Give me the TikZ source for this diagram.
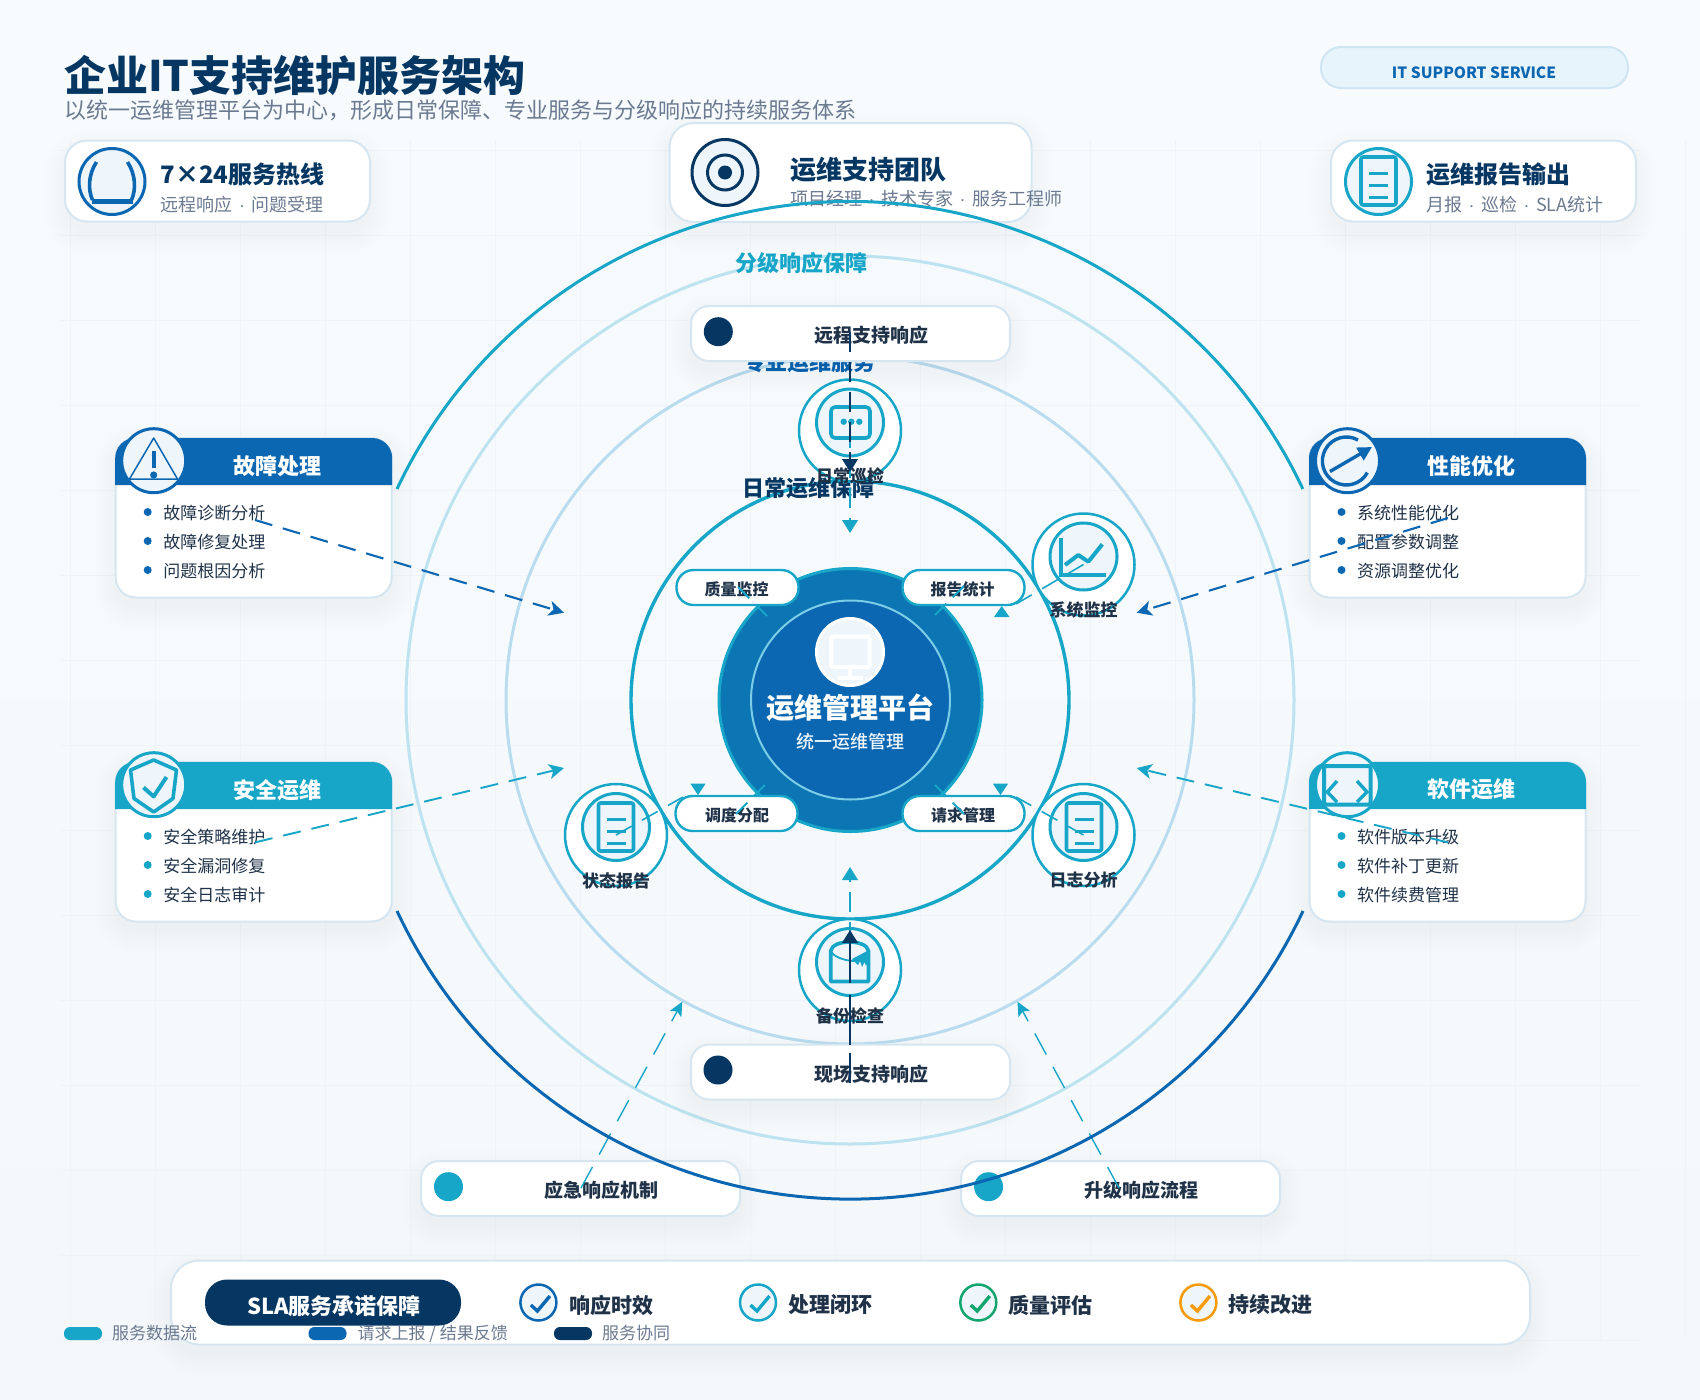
\documentclass[tikz,border=0pt]{standalone}
\usepackage{fontspec}
\setmainfont{Noto Sans CJK SC}
\newfontfamily\medf{Noto Sans CJK SC Medium}
\newfontfamily\dotf{Liberation Sans}
\usetikzlibrary{arrows.meta}
\definecolor{navy}{HTML}{063763}
\definecolor{cblue}{HTML}{0B67B2}
\definecolor{cteal}{HTML}{17A6C8}
\definecolor{ringa}{HTML}{BDE3F0}
\definecolor{ringb}{HTML}{B9DCEF}
\definecolor{edgec}{HTML}{D6E6F1}
\definecolor{subc}{HTML}{6B7A90}
\definecolor{ink}{HTML}{1F3248}
\definecolor{iconf}{HTML}{EEF6FB}
\definecolor{gridc}{HTML}{EEF4F9}
\definecolor{cgreen}{HTML}{12A56E}
\definecolor{corange}{HTML}{F59A0B}
\definecolor{bgtop}{HTML}{F7FBFE}
\definecolor{bgbot}{HTML}{F4F8FB}
\definecolor{platf}{HTML}{0C76B5}
\definecolor{platr}{HTML}{7CCDE6}
\definecolor{badgef}{HTML}{E8F4FB}
\definecolor{badged}{HTML}{CFE5F3}
\newcommand{\szf}[1]{\fontsize{#1}{#1}\selectfont}
\newcommand{\sepdot}{\hspace{6.5pt}{\dotf ·}\hspace{6.5pt}}
\newcommand{\softshadow}[5]{%
  \foreach \i in {0,...,7}{%
    \fill[navy,opacity=.004,rounded corners={#5+\i*3}]
      ({#1-\i*3},{#2+10-\i*3}) rectangle ({#3+\i*3},{#4+10+\i*3});
  }}
\tikzset{
  cardbox/.style={draw=edgec,line width=2pt,fill=white,rounded corners=22pt,inner sep=0pt,outer sep=0pt},
  smallcard/.style={cardbox,rounded corners=18pt,minimum width=319pt,minimum height=55pt},
  pillbox/.style={draw=cteal,line width=2.4pt,fill=white,rounded corners=17pt,minimum width=122pt,minimum height=35pt,inner sep=0pt,outer sep=0pt},
  ink17/.style={inner sep=0pt,text=ink,font=\szf{17}\bfseries},
  pilltext/.style={inner sep=0pt,text=ink,font=\szf{16}\bfseries},
  cardtitle/.style={inner sep=0pt,text=white,font=\szf{22}\bfseries},
  itemtext/.style={inner sep=0pt,anchor=west,text=ink,font=\szf{17},text height=14.5pt,text depth=2.5pt},
  toptitle/.style={inner sep=0pt,anchor=west,text=navy,font=\szf{24}\bfseries},
  topsub/.style={inner sep=0pt,anchor=west,text=subc,font=\szf{18}},
  legendtext/.style={inner sep=0pt,anchor=west,text=subc,font=\szf{17}},
  ringlabel/.style={inner sep=0pt,font=\szf{22}\bfseries},
  cardlabel/.style={inner sep=0pt,text=ink,font=\szf{19}\bfseries},
  slatext/.style={inner sep=0pt,anchor=west,text=ink,font=\szf{21}\bfseries},
  bullet/.style={circle,minimum size=8pt,inner sep=0pt},
  icondisc/.style={circle,fill=iconf,line width=3pt,minimum size=66pt,inner sep=0pt},
  nodeouter/.style={circle,draw=cteal,fill=white,line width=2.5pt,minimum size=102pt,inner sep=0pt},
  nodeinner/.style={circle,draw=cteal,fill=iconf,line width=3pt,minimum size=67pt,inner sep=0pt},
  respdot/.style={circle,minimum size=29pt,inner sep=0pt},
  checkdisc/.style={circle,fill=iconf,line width=2.5pt,minimum size=36pt,inner sep=0pt},
  glyph/.style={line width=3.6pt,line join=round},
  flowlong/.style={line width=2.1pt,dash pattern=on 18pt off 11pt,-{Stealth[length=15pt,width=15pt,inset=4pt]}},
  flowthin/.style={cteal,line width=1.4pt,dash pattern=on 24pt off 14pt,-{Stealth[length=14pt,width=13pt,inset=3pt]}},
  spokeline/.style={cteal,line width=1.6pt,dash pattern=on 18pt off 12pt},
  trihead/.style={fill=cteal,draw=none},
  legendpill/.style={rounded corners=6pt,minimum width=38pt,minimum height=13pt,inner sep=0pt},
}
\newcommand{\sidecard}[8]{%
  \softshadow{#2}{#3}{#2+276}{#3+159.5}{20}
  \node[cardbox,rounded corners=20pt,minimum width=276pt,minimum height=159.5pt] (#1) at ({#2+138},{#3+79.75}) {};
  \fill[#4] ({#2-.5},{#3+47}) -- ({#2-.5},{#3+20}) arc[start angle=180,end angle=270,radius=20] -- ({#2+256.5},{#3}) arc[start angle=270,end angle=360,radius=20] -- ({#2+276.5},{#3+47}) -- cycle;
  \node[cardtitle] (#1title) at ({#2+161.8},{#3+27.7}) {#5};
  \node[bullet,fill=#4] (#1bi) at ({#2+32},{#3+74}) {};
  \node[bullet,fill=#4] (#1bj) at ({#2+32},{#3+103}) {};
  \node[bullet,fill=#4] (#1bk) at ({#2+32},{#3+132}) {};
  \node[itemtext] (#1ti) at ({#2+47.5},{#3+75}) {#6};
  \node[itemtext] (#1tj) at ({#2+47.5},{#3+104}) {#7};
  \node[itemtext] (#1tk) at ({#2+47.5},{#3+133}) {#8};
  \node[circle,draw=#4,fill=iconf,line width=3pt,minimum size=64pt,inner sep=0pt] (#1icon) at ({#2+38},{#3+22.7}) {};
}
% name, x, y of outer centre, label
\newcommand{\ringnode}[4]{%
  \node[nodeouter] (#1) at (#2,#3) {};
  \node[nodeinner] (#1in) at (#2,{#3-8}) {};
  \node[ink17] (#1lab) at (#2,{#3+45.5}) {#4};
}
\newcommand{\docglyph}[3]{% x centre, y centre, colour
  \draw[#3,glyph,rounded corners=2pt] ({#1-17.5},{#2-24}) rectangle ({#1+17.5},{#2+24});
  \draw[#3,line width=3pt] ({#1-9.5},{#2-8}) -- ({#1+9.5},{#2-8}) ({#1-9.5},{#2+4}) -- ({#1+9.5},{#2+4}) ({#1-9.5},{#2+16}) -- ({#1+9.5},{#2+16});
}
\newcommand{\checkitem}[5]{% name,x,colour,text,textx
  \node[checkdisc,draw=#3] (#1) at (#2,1302.5) {};
  \draw[#3,line width=3.4pt] ({#2-7.5},1305) -- ({#2-1},1311) -- ({#2+11.5},1296);
  \node[slatext] (#1t) at (#5,1305) {#4};
}
\begin{document}
\begin{tikzpicture}[x=1pt,y=1pt,yscale=-1]
\useasboundingbox (0,0) rectangle (1700,1400);
\fill[top color=bgtop,bottom color=bgbot] (0,0) rectangle (1700,1400);
% grid
\foreach \gx in {70,155,...,1690}{\draw[gridc,line width=1pt] (\gx,140) -- (\gx,1340);}
\foreach \gy in {150,235,...,1345}{\draw[gridc,line width=1pt] (60,\gy) -- (1640,\gy);}
% heading
\node[inner sep=0pt,anchor=west,text=navy,font=\szf{42}\bfseries] (heading) at (64,75) {企业IT支持维护服务架构};
\node[inner sep=0pt,anchor=west,text=subc,font=\szf{22}] (subheading) at (64,110.5) {以统一运维管理平台为中心，形成日常保障、专业服务与分级响应的持续服务体系};
\node[draw=badged,fill=badgef,line width=2pt,rounded corners=20pt,minimum width=307pt,minimum height=41pt,inner sep=0pt] (badge) at (1474.5,67.5) {};
\node[inner sep=0pt,text=cblue,font=\szf{15.5}\bfseries] (badgetext) at (1474,72.5) {IT SUPPORT SERVICE};
% top cards
\softshadow{65}{141}{370}{222}{22}
\node[cardbox,minimum width=305pt,minimum height=81pt] (hotline) at (217.5,181) {};
\node[icondisc,draw=cblue] (hotlineicon) at (112,181.5) {};
\draw[cblue,line width=3.6pt] (96.5,162) .. controls (88,175) and (88,190) .. (92.5,200);
\draw[cblue,line width=3.6pt] (127.5,162) .. controls (136,175) and (136,190) .. (131.5,200);
\draw[cblue,line width=5pt] (92,201.5) -- (133,201.5);
\node[toptitle] (hotlinetitle) at (160.5,174.5) {7×24服务热线};
\node[topsub] (hotlinesub) at (160.5,204.5) {远程响应\sepdot 问题受理};
\softshadow{669.5}{123}{1031.5}{222}{24}
\node[cardbox,rounded corners=24pt,minimum width=362pt,minimum height=99pt] (team) at (850.5,172.5) {};
\node[icondisc,draw=navy] (teamicon) at (725,172.5) {};
\node[circle,draw=navy,line width=3pt,minimum size=35pt,inner sep=0pt] (teamring) at (725,172.5) {};
\node[circle,fill=navy,minimum size=14pt,inner sep=0pt] (teamdot) at (725,172.5) {};
\node[inner sep=0pt,anchor=west,text=navy,font=\szf{26}\bfseries] (teamtitle) at (790,170) {运维支持团队};
\node[topsub] (teamsub) at (790,198.5) {项目经理\sepdot 技术专家\sepdot 服务工程师};
\softshadow{1331}{141}{1636}{222}{22}
\node[cardbox,minimum width=305pt,minimum height=81pt] (report) at (1483.5,181) {};
\node[icondisc,draw=cteal] (reporticon) at (1378.5,181.5) {};
\docglyph{1378.5}{181}{cteal}
\node[toptitle] (reporttitle) at (1426,174.5) {运维报告输出};
\node[topsub] (reportsub) at (1426,204.5) {月报\sepdot 巡检\sepdot SLA统计};
% rings
\node[circle,draw=ringa,line width=3pt,minimum size=888pt,inner sep=0pt] (ringthree) at (850,700) {};
\node[circle,draw=ringb,line width=3pt,minimum size=688pt,inner sep=0pt] (ringtwo) at (850,700) {};
\node[circle,draw=cteal,line width=3.4pt,minimum size=438pt,inner sep=0pt] (ringone) at (850,700) {};
\node[ringlabel,text=cteal] (ringthreelab) at (801,263.5) {分级响应保障};
\node[ringlabel,text=cblue] (ringtwolab) at (809,362.5) {专业运维服务};
% response cards
\softshadow{691}{306}{1009}{361}{18}
\node[smallcard] (remote) at (850.5,333.5) {};
\node[respdot,fill=navy] (remotedot) at (718.3,331.7) {};
\node[cardlabel] (remotelab) at (871.5,335.7) {远程支持响应};
\softshadow{691}{1045}{1009}{1099}{18}
\node[smallcard] (field) at (850.5,1072) {};
\node[respdot,fill=navy] (fielddot) at (718,1070) {};
\node[cardlabel] (fieldlab) at (871.5,1074.5) {现场支持响应};
\softshadow{422}{1161}{740}{1216}{18}
\node[smallcard] (emerg) at (580.5,1188.5) {};
\node[respdot,fill=cteal] (emergdot) at (448.5,1186.7) {};
\node[cardlabel] (emerglab) at (601,1190.7) {应急响应机制};
\softshadow{962}{1161}{1280}{1216}{18}
\node[smallcard] (escal) at (1120.5,1188.5) {};
\node[respdot,fill=cteal] (escaldot) at (988.6,1186.7) {};
\node[cardlabel] (escallab) at (1141,1190.7) {升级响应流程};
% platform
\node[circle,draw=cteal,fill=platf,line width=3pt,minimum size=263pt,inner sep=0pt] (platform) at (850.5,700) {};
\node[circle,draw=platr,fill=cblue,line width=2pt,minimum size=199pt,inner sep=0pt] (platforminner) at (850.5,700) {};
\node[circle,draw=white,fill=iconf,line width=3pt,minimum size=67pt,inner sep=0pt] (platicon) at (850,652) {};
\draw[white,line width=4pt,rounded corners=2pt] (831,636.5) rectangle (869.5,667);
\draw[white,line width=4pt] (850,667) -- (850,677) (838,677.5) -- (863,677.5);
\node[inner sep=0pt,text=white,font=\szf{28}\bfseries] (plattitle) at (850,708) {运维管理平台};
\node[inner sep=0pt,text=iconf,font=\szf{18}\medf] (platsub) at (850,741.7) {统一运维管理};
\node[ringlabel,text=navy] (ringonelab) at (808.7,488) {日常运维保障};
% pills
\node[pillbox] (pillq) at (737.5,587.5) {};
\node[pilltext] (pillqt) at (736.7,589) {质量监控};
\node[pillbox] (pillr) at (963.5,587.5) {};
\node[pilltext] (pillrt) at (962.7,589) {报告统计};
\node[pillbox] (pilld) at (736.5,813.5) {};
\node[pilltext] (pilldt) at (737,815) {调度分配};
\node[pillbox] (pills) at (963.5,813.5) {};
\node[pilltext] (pillst) at (963,815) {请求管理};
% ring nodes
\ringnode{patrol}{850}{430.5}{日常巡检}
\draw[cteal,glyph,rounded corners=4pt] (831,407) rectangle (870,438);
\foreach \dx in {843.7,851.3,859.3}{\fill[cteal] (\dx,421.7) circle[radius=3.2];}
\ringnode{monitor}{1083.5}{564.5}{系统监控}
\draw[cteal,line width=4pt] (1061,538) -- (1061,575) -- (1106,575);
\draw[cteal,line width=4pt,line join=round] (1065,565) -- (1078.3,555) -- (1088.3,561.7) -- (1102.3,544.3);
\ringnode{logs}{1083.5}{835}{日志分析}
\docglyph{1084}{827}{cteal}
\ringnode{backup}{850}{970}{备份检查}
\draw[cteal,glyph,fill=iconf] (830.7,951) .. controls (832,939) and (867,939) .. (868.5,951) -- (868.5,981.5) -- (830.7,981.5) -- cycle;
\draw[cteal,line width=1.8pt] (831,952) .. controls (836,958) and (846,961) .. (856,961);
\fill[cteal] (852,959) -- (858,965) -- (860,961) -- (862,967) -- (864.5,962) -- (866,966) -- (869,958) -- (869,950) -- cycle;
\ringnode{status}{616}{835}{状态报告}
\docglyph{616}{827}{cteal}
% spoke lines, platform to pills
\coordinate (qa) at (767,616); \coordinate (qb) at (733,582);
\coordinate (ra) at (935,615); \coordinate (rb) at (967,583);
\coordinate (da) at (765,785); \coordinate (db) at (733,817);
\coordinate (sa) at (935,785); \coordinate (sb) at (967,817);
\draw[spokeline,line width=2pt,dash pattern=on 16pt off 9pt] (qa) -- (qb);
\draw[spokeline,line width=2pt,dash pattern=on 16pt off 9pt] (ra) -- (rb);
\draw[spokeline,line width=2pt,dash pattern=on 16pt off 9pt] (da) -- (db);
\draw[spokeline,line width=2pt,dash pattern=on 16pt off 9pt] (sa) -- (sb);
% spoke lines, ring nodes to pills
\coordinate (mend) at (1016,604);
\coordinate (lend) at (1016,797);
\coordinate (tend) at (683,797);
\draw[spokeline] (monitor.center) -- (mend);
\draw[spokeline] (logs.center) -- (lend);
\draw[spokeline] (status.center) -- (tend);
\fill[trihead] (1001.7,606) -- (994,617) -- (1009.5,617) -- cycle;
\fill[trihead] (698,795) -- (690.3,783.5) -- (705.7,783.5) -- cycle;
\fill[trihead] (1000.5,795) -- (992.8,783.5) -- (1008.2,783.5) -- cycle;
% side cards
\sidecard{fault}{115.7}{438}{cblue}{故障处理}{故障诊断分析}{故障修复处理}{问题根因分析}
\draw[cblue,line width=1.5pt,line join=round] (153.7,438) -- (177.5,479) -- (129.5,479) -- cycle;
\fill[cblue] (152,451) rectangle (155.5,468);
\fill[cblue] (153.7,475) circle[radius=3.6];
\sidecard{secure}{115.7}{762}{cteal}{安全运维}{安全策略维护}{安全漏洞修复}{安全日志审计}
\draw[cteal,line width=3.6pt,line join=round] (153.7,760) -- (176.5,770) -- (173,798.5) -- (153.7,812) -- (134,798.5) -- (130.5,770) -- cycle;
\draw[cteal,line width=4pt,line join=round] (143.5,787.5) -- (153.7,796.5) -- (166.5,777);
\sidecard{perf}{1309.5}{438}{cblue}{性能优化}{系统性能优化}{配置参数调整}{资源调整优化}
\draw[cblue,line width=3.4pt] (1358,440) arc[start angle=299,end angle=29,radius=24];
\coordinate (perfa) at (1330,471.5); \coordinate (perfb) at (1372,447);
\draw[cblue,line width=3.4pt,-{Triangle[length=14pt,width=14pt]}] (perfa) -- (perfb);
\sidecard{soft}{1309.5}{762}{cteal}{软件运维}{软件版本升级}{软件补丁更新}{软件续费管理}
\draw[cteal,line width=4pt,rounded corners=2pt] (1324,766) rectangle (1370.7,804.5);
\draw[cteal,line width=3.4pt] (1337,781) -- (1327.3,792) -- (1337,802) (1357,781) -- (1367,792) -- (1357,802);
% long dashed arrows
\coordinate (faultout) at (255,520); \coordinate (faulttip) at (564,612.7);
\coordinate (secout) at (255,842.4); \coordinate (sectip) at (564,768);
\coordinate (perfout) at (1448,518); \coordinate (perftip) at (1136.7,612.7);
\coordinate (softout) at (1448,842.4); \coordinate (softtip) at (1136.7,768);
\draw[flowlong,cblue] (faultout) -- (faulttip);
\draw[flowlong,cteal,line width=1.9pt] (secout) -- (sectip);
\draw[flowlong,cblue] (perfout) -- (perftip);
\draw[flowlong,cteal,line width=1.9pt] (softout) -- (softtip);
% bottom diagonal arrows
\coordinate (emout) at (581,1188); \coordinate (emtip) at (682.3,1001.7);
\coordinate (esout) at (1119,1188); \coordinate (estip) at (1017.5,1001.7);
\draw[flowthin] (emout) -- (emtip);
\draw[flowthin] (esout) -- (estip);
% vertical arrows
\coordinate (patrolin) at (850,428); \coordinate (patroltip) at (850,533);
\draw[cteal,line width=2.2pt,dash pattern=on 20pt off 10pt,-{Triangle[length=13pt,width=15.5pt]}] (patrolin) -- (patroltip);
\coordinate (backin) at (850,942); \coordinate (backtip) at (850,867);
\draw[cteal,line width=2.2pt,dash pattern=on 20pt off 10pt,-{Triangle[length=13pt,width=15.5pt]}] (backin) -- (backtip);
\coordinate (remoteout) at (850,332); \coordinate (remotetip) at (850,472);
\draw[navy,line width=2.6pt,dash pattern=on 20pt off 10pt,-{Triangle[length=13pt,width=15.5pt]}] (remoteout) -- (remotetip);
\coordinate (fieldout) at (850,1083); \coordinate (fieldtip) at (850,930);
\draw[navy,line width=2.6pt,dash pattern=on 30pt off 8pt on 50pt off 12pt on 60pt off 10pt,-{Triangle[length=13pt,width=15.5pt]}] (fieldout) -- (fieldtip);
% outer arcs
\coordinate (arcleft) at (397,489); \coordinate (arcleftb) at (397,911);
\draw[cteal,line width=3pt] (arcleft) arc[start angle=205.2,end angle=334.8,radius=500.6];
\draw[cblue,line width=3pt] (arcleftb) arc[start angle=154.89,end angle=25.11,radius=500.3];
% SLA bar
\softshadow{171}{1261}{1530}{1345}{28}
\node[cardbox,rounded corners=28pt,minimum width=1359pt,minimum height=84pt] (slabar) at (850.5,1302.5) {};
\node[fill=navy,rounded corners=22pt,minimum width=256pt,minimum height=46pt,inner sep=0pt] (slapill) at (333,1302.5) {};
\node[inner sep=0pt,text=white,font=\szf{22}\bfseries] (slatitle) at (334,1306) {SLA服务承诺保障};
\checkitem{chka}{538.4}{cblue}{响应时效}{568.8}
\checkitem{chkb}{758}{cteal}{处理闭环}{788.5}
\checkitem{chkc}{978.3}{cgreen}{质量评估}{1008}
\checkitem{chkd}{1198.4}{corange}{持续改进}{1228}
% legend
\node[legendpill,fill=cteal] (lega) at (83,1333.5) {};
\node[legendtext] (legat) at (112,1333.5) {服务数据流};
\node[legendpill,fill=cblue] (legb) at (327.5,1333.5) {};
\node[legendtext] (legbt) at (357.5,1333.5) {请求上报 / 结果反馈};
\node[legendpill,fill=navy] (legc) at (573,1333.5) {};
\node[legendtext] (legct) at (602,1333.5) {服务协同};
\end{tikzpicture}
\end{document}
